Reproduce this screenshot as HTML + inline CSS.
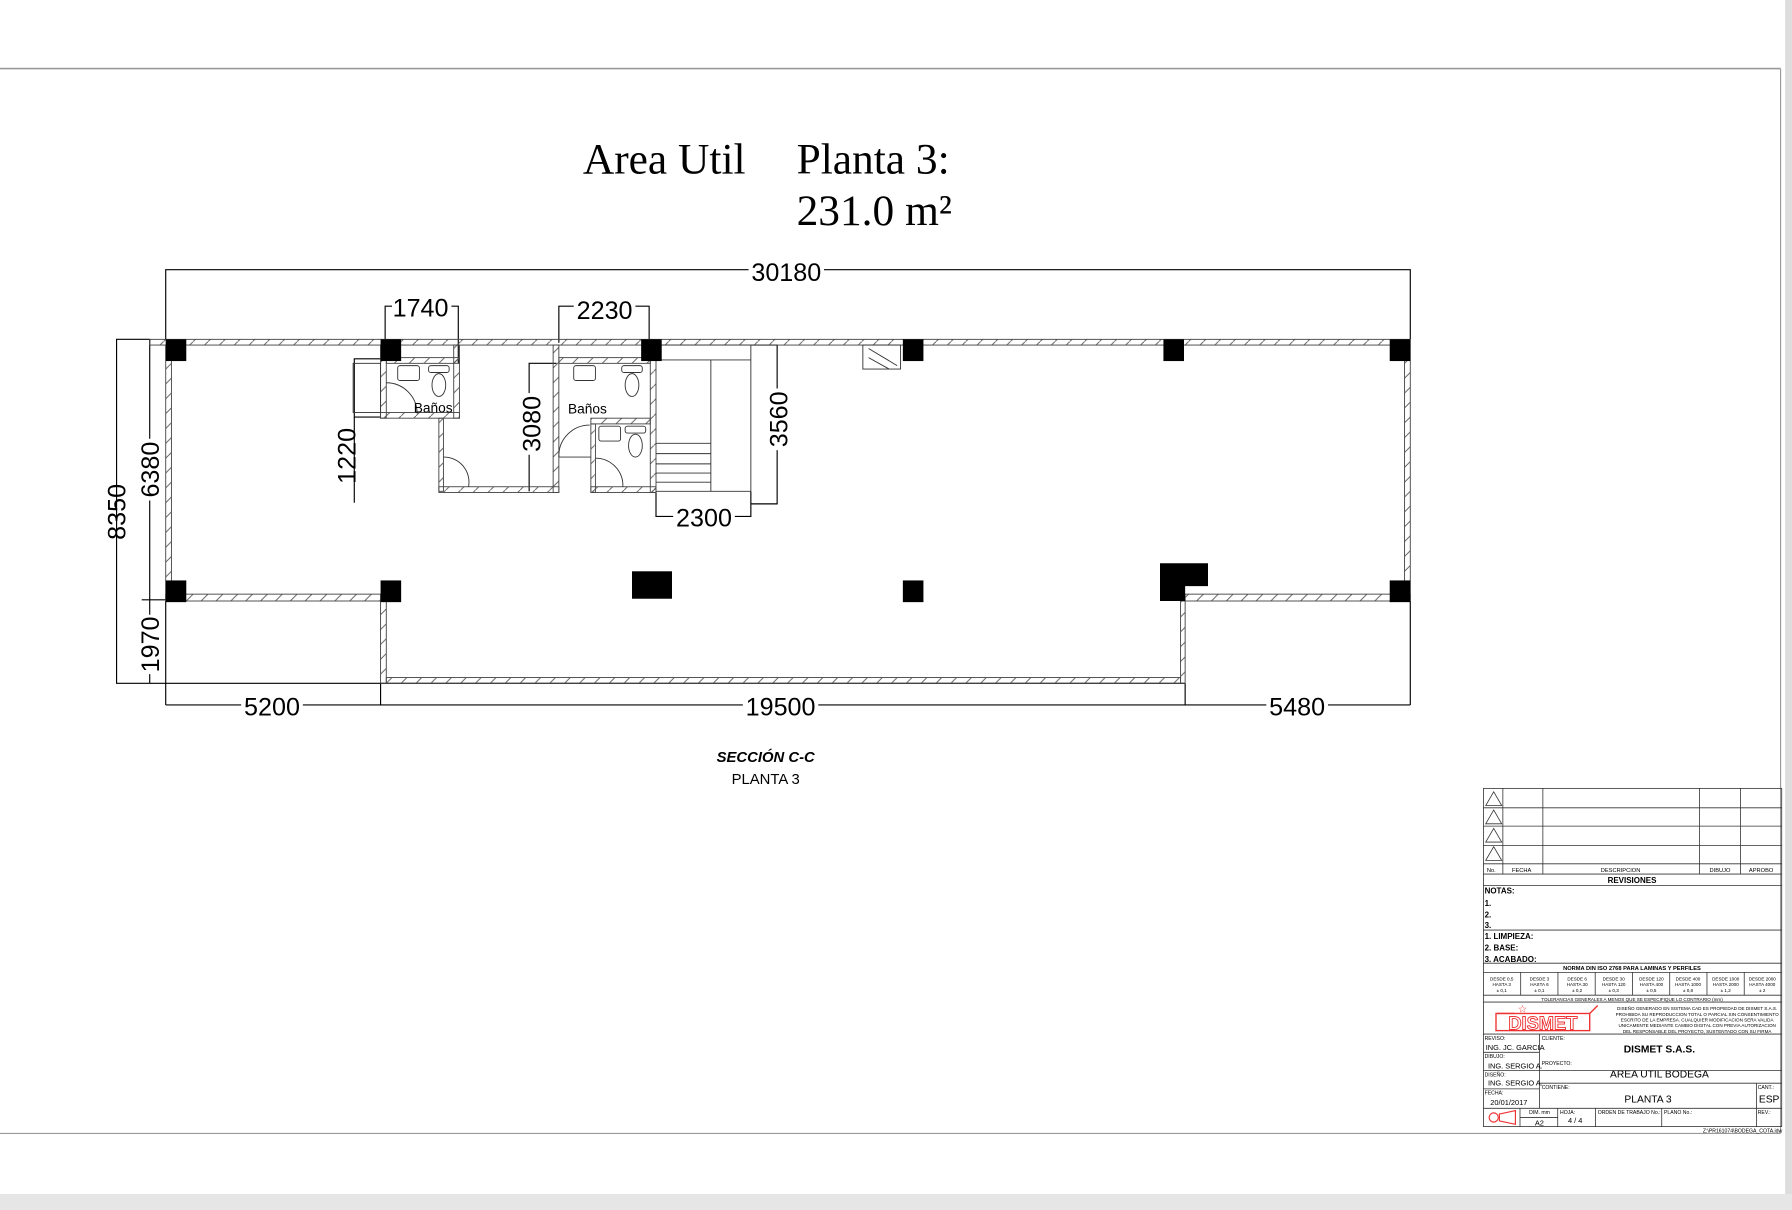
<!DOCTYPE html>
<html><head><meta charset="utf-8"><style>
html,body{margin:0;padding:0;background:#fff;}
svg{display:block;}
text{font-family:"Liberation Sans",sans-serif;fill:#000;}
.d{font-size:22px;}
.s{font-family:"Liberation Serif",serif;font-size:38px;}
.t{font-size:5px;}
.tb{font-size:7px;font-weight:bold;}
</style></head><body>
<svg width="1792" height="1210" viewBox="0 0 1568 1059" preserveAspectRatio="none" xmlns="http://www.w3.org/2000/svg">
<defs>
<pattern id="h" width="13" height="13" patternUnits="userSpaceOnUse">
<line x1="0" y1="13" x2="13" y2="0" stroke="#555" stroke-width="0.8"/>
</pattern>
</defs>
<rect x="0" y="0" width="1568" height="1059" fill="#fff"/>
<rect x="1562" y="0" width="6" height="1059" fill="#ddd"/>
<rect x="0" y="1045" width="1568" height="14" fill="#e6e6e6"/>
<line x1="0" y1="60" x2="1558" y2="60" stroke="#999" stroke-width="1.5"/>
<line x1="1558" y1="60" x2="1558" y2="992" stroke="#999" stroke-width="1"/>
<line x1="0" y1="992" x2="1558" y2="992" stroke="#999" stroke-width="1"/>

<text class="s" x="510" y="152">Area Util</text>
<text class="s" x="697" y="152">Planta 3:</text>
<text class="s" x="697" y="197">231.0 m²</text>

<g stroke="#000" stroke-width="1" fill="none">
<polyline points="145,297 145,236 1234,236 1234,297"/>
<polyline points="131,297 102,297 102,598 131,598"/>
<line x1="131" y1="297" x2="131" y2="598"/>
<line x1="124" y1="525" x2="145" y2="525"/>
<line x1="131" y1="598" x2="333" y2="598"/>
<line x1="145" y1="617" x2="1234" y2="617"/>
<line x1="145" y1="526" x2="145" y2="617"/>
<line x1="333" y1="598" x2="333" y2="617"/>
<line x1="1037" y1="598" x2="1037" y2="617"/>
<line x1="1234" y1="526" x2="1234" y2="617"/>
<line x1="333" y1="598" x2="1037" y2="598"/>
<polyline points="337,300 337,268 401,268 401,318"/>
<polyline points="489,300 489,268 568,268 568,300"/>
<polyline points="657,302 680,302 680,441 657,441"/>
<polyline points="574,430 574,452 657,452 657,430"/>
<polyline points="487,318 463,318 463,430"/>
<polyline points="333,314 310,314 310,365 333,365"/>
<line x1="310" y1="365" x2="310" y2="440"/>
</g>
<rect x="655" y="228" width="66" height="18" fill="#fff"/>
<text class="d" x="688" y="246" text-anchor="middle">30180</text>
<rect x="343" y="258" width="52" height="18" fill="#fff"/>
<text class="d" x="368" y="277" text-anchor="middle">1740</text>
<rect x="502" y="258" width="54" height="18" fill="#fff"/>
<text class="d" x="529" y="279" text-anchor="middle">2230</text>
<rect x="589" y="442" width="54" height="18" fill="#fff"/>
<text class="d" x="616" y="461" text-anchor="middle">2300</text>
<rect x="211" y="608" width="54" height="18" fill="#fff"/>
<text class="d" x="238" y="626" text-anchor="middle">5200</text>
<rect x="650" y="608" width="66" height="18" fill="#fff"/>
<text class="d" x="683" y="626" text-anchor="middle">19500</text>
<rect x="1108" y="608" width="54" height="18" fill="#fff"/>
<text class="d" x="1135" y="626" text-anchor="middle">5480</text>
<text class="d" transform="translate(110,448) rotate(-90)" text-anchor="middle">8350</text>
<rect x="120" y="384" width="20" height="54" fill="#fff"/>
<text class="d" transform="translate(139,411) rotate(-90)" text-anchor="middle">6380</text>
<rect x="120" y="538" width="20" height="52" fill="#fff"/>
<text class="d" transform="translate(139,564) rotate(-90)" text-anchor="middle">1970</text>
<rect x="672" y="340" width="18" height="54" fill="#fff"/>
<text class="d" transform="translate(689,367) rotate(-90)" text-anchor="middle">3560</text>
<rect x="455" y="344" width="18" height="54" fill="#fff"/>
<text class="d" transform="translate(473,371) rotate(-90)" text-anchor="middle">3080</text>
<text class="d" transform="translate(311,399) rotate(-90)" text-anchor="middle">1220</text>

<g fill="url(#h)" stroke="#444" stroke-width="0.8">
<rect x="131" y="297" width="1103" height="5"/>
<rect x="145" y="302" width="5" height="223"/>
<rect x="1229" y="302" width="5" height="223"/>
<rect x="145" y="520" width="188" height="6"/>
<rect x="1037" y="520" width="197" height="6"/>
<rect x="333" y="526" width="5" height="72"/>
<rect x="1033" y="526" width="4" height="72"/>
<rect x="338" y="593" width="695" height="5"/>
<rect x="333" y="302" width="5" height="64"/>
<rect x="338" y="313" width="64" height="5"/>
<rect x="397" y="302" width="5" height="64"/>
<rect x="333" y="361" width="69" height="5"/>
<rect x="384" y="366" width="4" height="64"/>
<rect x="384" y="426" width="105" height="5"/>
<rect x="484" y="302" width="5" height="129"/>
<rect x="489" y="313" width="80" height="5"/>
<rect x="569" y="302" width="5" height="129"/>
<rect x="517" y="366" width="52" height="5"/>
<rect x="517" y="371" width="4" height="60"/>
<rect x="517" y="426" width="57" height="5"/>
</g>
<g stroke="#333" stroke-width="0.8" fill="none">
<rect x="755" y="302" width="33" height="21"/>
<line x1="760" y1="305" x2="785" y2="320"/>
<line x1="760" y1="313" x2="778" y2="323"/>
<rect x="309" y="318" width="24" height="43"/>
<line x1="574" y1="302" x2="657" y2="302"/>
<line x1="574" y1="315" x2="657" y2="315"/>
<line x1="657" y1="302" x2="657" y2="430"/>
<line x1="622" y1="315" x2="622" y2="430"/>
<line x1="574" y1="430" x2="657" y2="430"/>
<line x1="574" y1="388" x2="622" y2="388"/>
<line x1="574" y1="397" x2="622" y2="397"/>
<line x1="574" y1="406" x2="622" y2="406"/>
<line x1="574" y1="414" x2="622" y2="414"/>
<line x1="574" y1="422" x2="622" y2="422"/>
<path d="M338,335 A27,27 0 0 1 365,362"/>
<path d="M388,400 A22,22 0 0 1 410,426"/>
<path d="M489,400 A27,27 0 0 1 516,372 M489,400 L517,400"/>
<path d="M521,401 A24,24 0 0 1 545,426"/>
<rect x="348" y="320" width="19" height="13" rx="2"/>
<rect x="502" y="320" width="19" height="13" rx="2"/>
<rect x="524" y="373" width="19" height="13" rx="2"/>
<rect x="375" y="320" width="18" height="6" rx="2"/>
<ellipse cx="384" cy="337" rx="6" ry="10"/>
<rect x="544" y="320" width="18" height="6" rx="2"/>
<ellipse cx="553" cy="337" rx="6" ry="10"/>
<rect x="547" y="373" width="18" height="6" rx="2"/>
<ellipse cx="556" cy="390" rx="6" ry="10"/>
</g>
<text x="362" y="361" font-size="12">Baños</text>
<text x="497" y="362" font-size="12">Baños</text>

<g fill="#000">
<rect x="145" y="297" width="18" height="19"/>
<rect x="333" y="297" width="18" height="19"/>
<rect x="561" y="297" width="18" height="19"/>
<rect x="790" y="297" width="18" height="19"/>
<rect x="1018" y="297" width="18" height="19"/>
<rect x="1216" y="297" width="18" height="19"/>
<rect x="145" y="508" width="18" height="19"/>
<rect x="333" y="508" width="18" height="19"/>
<rect x="790" y="508" width="18" height="19"/>
<rect x="1216" y="508" width="18" height="19"/>
<rect x="553" y="500" width="35" height="24"/>
<path d="M1015,493 H1057 V513 H1037 V526 H1015 Z"/>
</g>

<text x="670" y="667" font-size="13" font-weight="bold" font-style="italic" text-anchor="middle">SECCIÓN C-C</text>
<text x="670" y="686" font-size="13" text-anchor="middle">PLANTA 3</text>

<g stroke="#333" stroke-width="0.7" fill="none">
<rect x="1298" y="690" width="261" height="296"/>
<line x1="1298" y1="707" x2="1559" y2="707"/>
<line x1="1298" y1="723" x2="1559" y2="723"/>
<line x1="1298" y1="740" x2="1559" y2="740"/>
<line x1="1298" y1="756" x2="1559" y2="756"/>
<line x1="1298" y1="765" x2="1559" y2="765"/>
<line x1="1298" y1="775" x2="1559" y2="775"/>
<line x1="1315" y1="690" x2="1315" y2="765"/>
<line x1="1350" y1="690" x2="1350" y2="765"/>
<line x1="1487" y1="690" x2="1487" y2="765"/>
<line x1="1523" y1="690" x2="1523" y2="765"/>
<line x1="1298" y1="814" x2="1559" y2="814"/>
<line x1="1298" y1="843" x2="1559" y2="843"/>
<line x1="1298" y1="851" x2="1559" y2="851"/>
<line x1="1298" y1="871" x2="1559" y2="871"/>
<line x1="1298" y1="877" x2="1559" y2="877"/>
<line x1="1330.6" y1="851" x2="1330.6" y2="871"/>
<line x1="1363.2" y1="851" x2="1363.2" y2="871"/>
<line x1="1395.8" y1="851" x2="1395.8" y2="871"/>
<line x1="1428.4" y1="851" x2="1428.4" y2="871"/>
<line x1="1461" y1="851" x2="1461" y2="871"/>
<line x1="1493.6" y1="851" x2="1493.6" y2="871"/>
<line x1="1526.2" y1="851" x2="1526.2" y2="871"/>
<line x1="1298" y1="905" x2="1559" y2="905"/>
<line x1="1347" y1="905" x2="1347" y2="970"/>
<line x1="1298" y1="921" x2="1347" y2="921"/>
<line x1="1298" y1="937" x2="1559" y2="937"/>
<line x1="1298" y1="953" x2="1347" y2="953"/>
<line x1="1347" y1="948" x2="1559" y2="948"/>
<line x1="1537" y1="948" x2="1537" y2="986"/>
<line x1="1298" y1="970" x2="1559" y2="970"/>
<line x1="1330" y1="970" x2="1330" y2="986"/>
<line x1="1363" y1="970" x2="1363" y2="986"/>
<line x1="1396" y1="970" x2="1396" y2="986"/>
<line x1="1454" y1="970" x2="1454" y2="986"/>
<line x1="1330" y1="978" x2="1363" y2="978"/>
<path d="M1300,705 L1307,693 L1314,705 Z M1300,721 L1307,709 L1314,721 Z M1300,737 L1307,725 L1314,737 Z M1300,753 L1307,741 L1314,753 Z"/>
</g>
<g>
<text x="1301" y="763" font-size="5">No.</text>
<text x="1323" y="763" font-size="5">FECHA</text>
<text x="1418" y="763" font-size="5" text-anchor="middle">DESCRIPCION</text>
<text x="1505" y="763" font-size="5" text-anchor="middle">DIBUJO</text>
<text x="1541" y="763" font-size="5" text-anchor="middle">APROBO</text>
</g>
<text class="tb" x="1428" y="773" text-anchor="middle">REVISIONES</text>
<text class="tb" x="1299" y="782">NOTAS:</text>
<text class="tb" x="1299" y="793">1.</text>
<text class="tb" x="1299" y="803">2.</text>
<text class="tb" x="1299" y="812">3.</text>
<text class="tb" x="1299" y="822">1. LIMPIEZA:</text>
<text class="tb" x="1299" y="832">2. BASE:</text>
<text class="tb" x="1299" y="842">3. ACABADO:</text>
<text x="1428" y="849" font-size="5" font-weight="bold" text-anchor="middle">NORMA DIN ISO 2768 PARA LAMINAS Y PERFILES</text>
<g font-size="4" text-anchor="middle">
<text x="1314" y="858">DESDE 0,5</text><text x="1314" y="863">HASTA 3</text><text x="1314" y="868">± 0,1</text>
<text x="1347" y="858">DESDE 3</text><text x="1347" y="863">HASTA 6</text><text x="1347" y="868">± 0,1</text>
<text x="1380" y="858">DESDE 6</text><text x="1380" y="863">HASTA 30</text><text x="1380" y="868">± 0,2</text>
<text x="1412" y="858">DESDE 30</text><text x="1412" y="863">HASTA 120</text><text x="1412" y="868">± 0,3</text>
<text x="1445" y="858">DESDE 120</text><text x="1445" y="863">HASTA 400</text><text x="1445" y="868">± 0,5</text>
<text x="1477" y="858">DESDE 400</text><text x="1477" y="863">HASTA 1000</text><text x="1477" y="868">± 0,8</text>
<text x="1510" y="858">DESDE 1000</text><text x="1510" y="863">HASTA 2000</text><text x="1510" y="868">± 1,2</text>
<text x="1542" y="858">DESDE 2000</text><text x="1542" y="863">HASTA 4000</text><text x="1542" y="868">± 2</text>
<text x="1428" y="876">TOLERANCIAS GENERALES A MENOS QUE SE ESPECIFIQUE LO CONTRARIO (mm)</text>
<text x="1485" y="884">DISEÑO GENERADO EN SISTEMA CAD ES PROPIEDAD DE DISMET S.A.S.</text>
<text x="1485" y="889">PROHIBIDA SU REPRODUCCION TOTAL O PARCIAL SIN CONSENTIMIENTO</text>
<text x="1485" y="894">ESCRITO DE LA EMPRESA. CUALQUIER MODIFICACION SERA VALIDA</text>
<text x="1485" y="899">UNICAMENTE MEDIANTE CAMBIO DIGITAL CON PREVIA AUTORIZACION</text>
<text x="1485" y="904">DEL RESPONSABLE DEL PROYECTO, SUSTENTADO CON SU FIRMA</text>
</g>
<g stroke="#e33" fill="none" stroke-width="1.2">
<rect x="1309" y="887" width="82" height="15"/>
<path d="M1310,887 H1325 M1391,887 L1398,880"/>
</g>
<text x="1350" y="901" font-size="16" font-weight="bold" text-anchor="middle" stroke="#e33" stroke-width="0.8" style="fill:#fff">DISMET</text>
<text x="1328" y="886" font-size="9" style="fill:#e33">☆</text>
<g font-size="4.5">
<text x="1299" y="910">REVISO:</text>
<text x="1349" y="910">CLIENTE:</text>
<text x="1299" y="926">DIBUJO:</text>
<text x="1349" y="932">PROYECTO:</text>
<text x="1299" y="942">DISEÑO:</text>
<text x="1349" y="953">CONTIENE:</text>
<text x="1299" y="958">FECHA:</text>
<text x="1538" y="953">CANT.:</text>
<text x="1338" y="975">DIM. mm</text>
<text x="1365" y="975">HOJA:</text>
<text x="1398" y="975">ORDEN DE TRABAJO No.:</text>
<text x="1456" y="975">PLANO No.:</text>
<text x="1538" y="975">REV.:</text>
<text x="1490" y="991">Z:\PR161074\BODEGA_COTA.idw</text>
</g>
<g font-size="6.5">
<text x="1300" y="919">ING. JC. GARCIA</text>
<text x="1302" y="935">ING. SERGIO A.</text>
<text x="1302" y="950">ING. SERGIO A.</text>
<text x="1304" y="967">20/01/2017</text>
<text x="1343" y="985">A2</text>
<text x="1372" y="983">4 / 4</text>
</g>
<text x="1452" y="921" font-size="9" font-weight="bold" text-anchor="middle">DISMET S.A.S.</text>
<text x="1452" y="943" font-size="9" text-anchor="middle">AREA UTIL BODEGA</text>
<text x="1442" y="965" font-size="9" text-anchor="middle">PLANTA 3</text>
<text x="1539" y="965" font-size="9">ESP</text>
<g stroke="#e33" fill="none" stroke-width="1">
<circle cx="1307" cy="978" r="4"/>
<path d="M1312,975 L1326,972 V984 L1312,981 Z"/>
</g>
</svg>
</body></html>
